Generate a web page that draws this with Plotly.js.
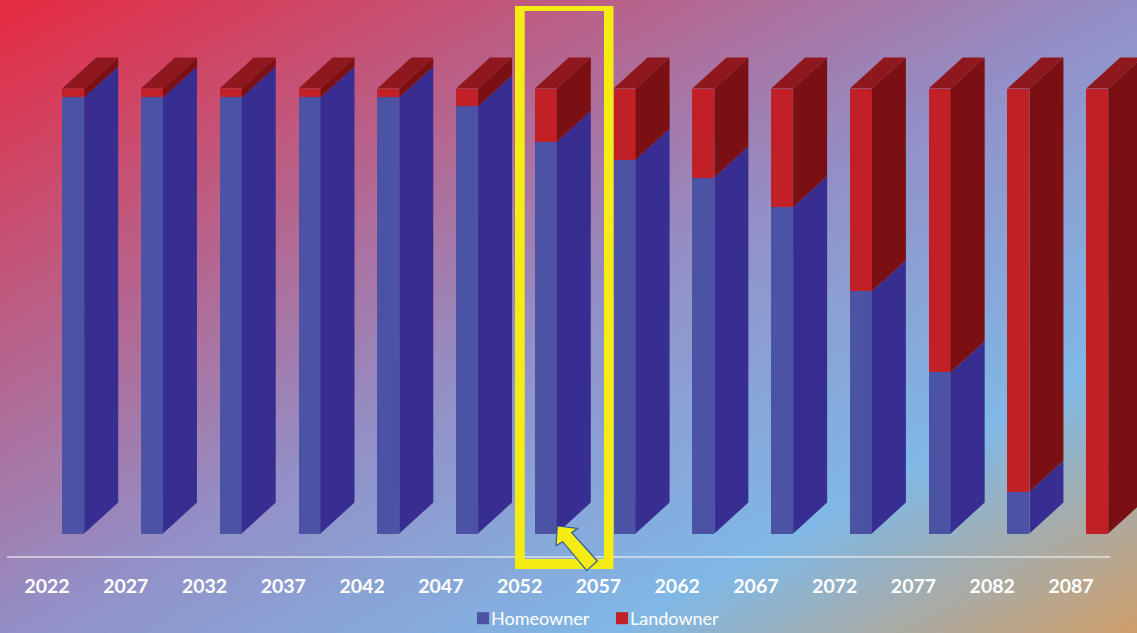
<!DOCTYPE html>
<html>
<head>
<meta charset="utf-8">
<script src="https://cdn.plot.ly/plotly-3.0.1.min.js"></script>
<style>
html,body{margin:0;padding:0;width:1137px;height:633px;overflow:hidden;
background:linear-gradient(to bottom right,#E62A40 0%,#938FC6 50%,#7FB8E6 77%,#CF9F6A 100%);}
#c{width:1137px;height:633px;}
.legend .legendtext{transform:translateX(-12px);}
</style>
</head>
<body>
<div id="c"></div>
<script>
const years = [2022,2027,2032,2037,2042,2047,2052,2057,2062,2067,2072,2077,2082,2087];
const homeowner = [98,98,98,98,98,96,88,84,80,73.3,54.4,36.2,9.4,0];
const landowner = [2,2,2,2,2,4,12,16,20,26.7,45.6,63.8,90.6,100];

// picture geometry
const W = 1137, H = 633, axisPx = 557, zeroPx = 533.5, fullPx = 88.5, firstTickPx = 47, stepPx = 78.77;
const pxPerYear = stepPx / 5, pxPerUnit = (zeroPx - fullPx) / 100;
const xOf = p => years[0] + (p - firstTickPx) / pxPerYear;
const yOf = p => (zeroPx - p) / pxPerUnit;
const barOffset = 15.2 / pxPerYear, barWidth = 22 / pxPerYear;
const depthX = 34 / pxPerYear, depthY = 31 / pxPerUnit;

const colors = {hFront:'#4C53A4', hSide:'#382E92', lFront:'#C02026', lSide:'#7A1014', lTop:'#8F181E'};

function poly(xs, ys, color){
  return {type:'scatter',mode:'lines',x:xs,y:ys,fill:'toself',fillcolor:color,
    line:{width:0,color:color},showlegend:false,hoverinfo:'skip'};
}
const traces = [
  {type:'bar',name:'Homeowner',x:years,y:homeowner,offset:barOffset,width:barWidth,
   marker:{color:colors.hFront,line:{width:0}},hoverinfo:'skip'},
  {type:'bar',name:'Landowner',x:years,y:landowner,offset:barOffset,width:barWidth,
   marker:{color:colors.lFront,line:{width:0}},hoverinfo:'skip'}
];
years.forEach((yr,i)=>{
  const x1 = yr + barOffset + barWidth, x2 = x1 + depthX, x0 = yr + barOffset;
  const h = homeowner[i], t = h + landowner[i];
  if (h > 0) traces.push(poly([x1,x2,x2,x1,x1],[0,depthY,h+depthY,h,0],colors.hSide));
  traces.push(poly([x1,x2,x2,x1,x1],[h,h+depthY,t+depthY,t,h],colors.lSide));
  traces.push(poly([x0,x1,x2,x0+depthX,x0],[t,t,t+depthY,t+depthY,t],colors.lTop));
});

const px = x => x / W, py = y => (axisPx - y) / axisPx;
const pathOf = pts => 'M' + pts.map(p => px(p[0]) + ',' + py(p[1])).join('L') + 'Z';
const rectPts = (a,b,c,d) => [[a,b],[c,b],[c,d],[a,d]];

const layout = {
  width:W,height:H,
  margin:{l:0,r:0,t:0,b:H-axisPx,pad:0,autoexpand:false},
  paper_bgcolor:'rgba(0,0,0,0)',plot_bgcolor:'rgba(0,0,0,0)',
  barmode:'stack',
  font:{family:'Lato, sans-serif',color:'#fff'},
  xaxis:{type:'linear',range:[xOf(0),xOf(W)],tickmode:'array',tickvals:years,ticktext:years.map(String),
    tickfont:{family:'Lato, sans-serif',size:19.5,color:'#fff',weight:700},tickangle:0,
    showgrid:false,zeroline:false,showline:false,ticks:'outside',ticklen:12,tickcolor:'rgba(0,0,0,0)',tickwidth:1},
  yaxis:{range:[yOf(axisPx),yOf(0)],visible:false,showgrid:false,zeroline:false},
  legend:{orientation:'h',traceorder:'normal',x:463/W,xanchor:'left',y:py(600),yanchor:'top',
    entrywidth:94,entrywidthmode:'pixels',
    font:{family:'Lato, sans-serif',size:18,color:'#fff'},bgcolor:'rgba(0,0,0,0)',itemclick:false,itemdoubleclick:false},
  shapes:[
    {type:'line',xref:'paper',yref:'paper',x0:px(7),x1:px(1110),y0:0,y1:0,line:{color:'rgba(235,235,235,0.85)',width:1.5}},
    {type:'path',xref:'paper',yref:'paper',fillrule:'evenodd',fillcolor:'#F5EC14',line:{width:0},
     path:pathOf(rectPts(515,6,613.5,569))+pathOf(rectPts(524.7,11,604,559))},
    {type:'path',xref:'paper',yref:'paper',fillcolor:'#F5EC14',line:{color:'#2B5C9A',width:1.2},
     path:pathOf([[557.3,526],[577.7,528.3],[571.7,532.7],[597.3,561],[586.7,570.7],[562.7,541.7],[556,545.7]])}
  ]
};
Plotly.newPlot('c',traces,layout,{displayModeBar:false,responsive:false});
</script>
</body>
</html>
